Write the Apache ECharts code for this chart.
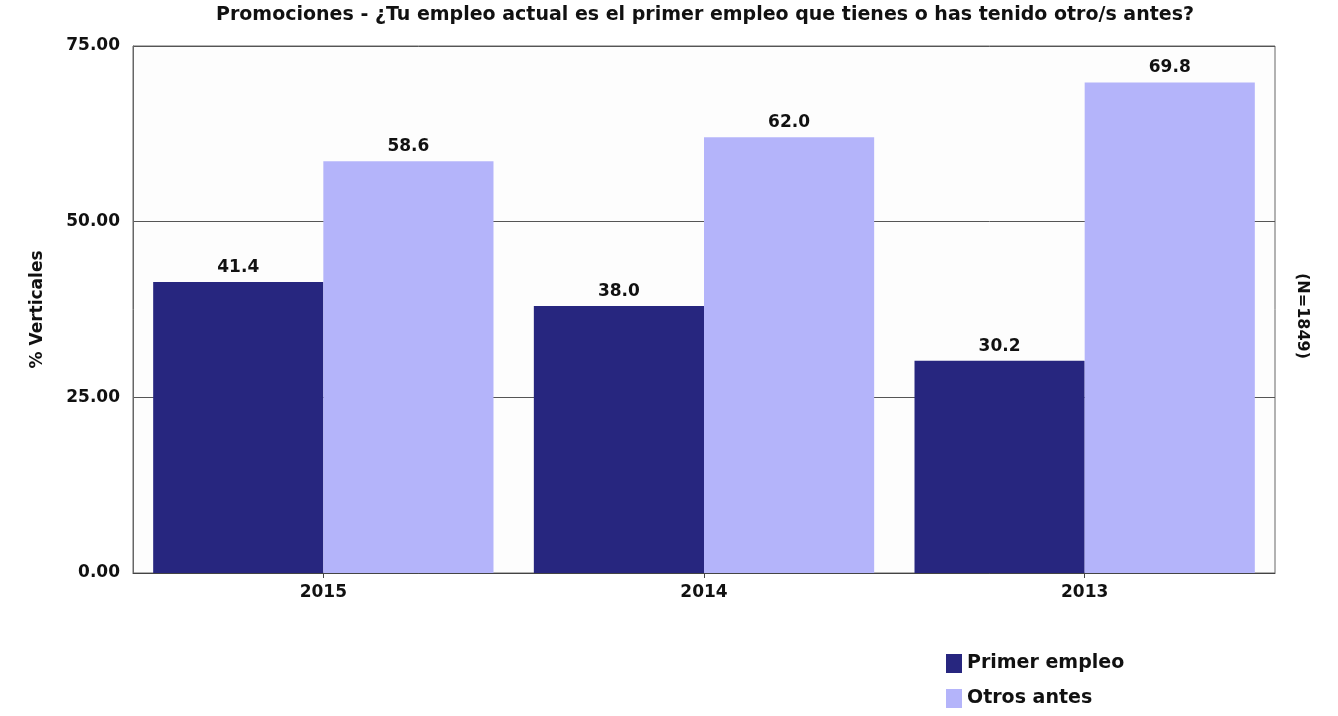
<!DOCTYPE html>
<html>
<head>
<meta charset="utf-8">
<script src="https://cdn.jsdelivr.net/npm/echarts@6/dist/echarts.min.js"></script>
<style>
  html, body { margin: 0; padding: 0; background: #fff; }
  #chart { width: 1338px; height: 716px; }
</style>
</head>
<body>
<div id="chart"></div>
<script>
  var years = ['2015', '2014', '2013'];
  var primerEmpleo = [41.4, 38.0, 30.2];
  var otrosAntes = [58.6, 62.0, 69.8];
  var yTicks = [0, 25, 50, 75];

  var font = '"DejaVu Sans", "Liberation Sans", Arial, sans-serif';

  var chart = echarts.init(document.getElementById('chart'));
  var option = {
    animation: false,
    backgroundColor: '#ffffff',
    textStyle: { fontFamily: font },
    title: {
      text: 'Promociones - ¿Tu empleo actual es el primer empleo que tienes o has tenido otro/s antes?',
      left: 700,
      textAlign: 'center',
      top: 1,
      textStyle: { fontSize: 19, fontWeight: 'bold', color: '#111', fontFamily: font }
    },
    legend: {
      orient: 'vertical',
      left: 946,
      top: 654,
      padding: 0,
      height: 60,
      itemWidth: 16,
      itemHeight: 19,
      itemGap: 16,
      icon: 'rect',
      textStyle: { fontSize: 19, fontWeight: 'bold', color: '#111', fontFamily: font },
      data: ['Primer empleo', 'Otros antes']
    },
    grid: {
      left: 133,
      right: 63,
      top: 46,
      bottom: 143,
      show: true,
      borderColor: '#666',
      borderWidth: 1,
      backgroundColor: '#fdfdfd'
    },
    xAxis: {
      type: 'category',
      data: years,
      axisLine: { lineStyle: { color: '#444' } },
      axisTick: { show: true, alignWithLabel: true, length: 5, lineStyle: { color: '#444' } },
      axisLabel: { fontSize: 17, fontWeight: 'bold', color: '#111', margin: 11 }
    },
    yAxis: {
      type: 'value',
      min: yTicks[0],
      max: yTicks[yTicks.length - 1],
      interval: 25,
      name: '% Verticales',
      nameLocation: 'middle',
      nameRotate: 90,
      nameGap: 87,
      nameTextStyle: { fontSize: 17, fontWeight: 'bold', color: '#111' },
      axisLine: { show: true, lineStyle: { color: '#666' } },
      axisTick: { show: false },
      axisLabel: {
        fontSize: 17, fontWeight: 'bold', color: '#111', margin: 13,
        formatter: function (v) { return v.toFixed(2); }
      },
      splitLine: { show: true, lineStyle: { color: '#555', width: 1 } }
    },
    series: [
      {
        name: 'Primer empleo',
        type: 'bar',
        data: primerEmpleo,
        barWidth: '44.7%',
        barGap: '0%',
        itemStyle: { color: '#27267f' },
        label: {
          show: true, position: 'top', distance: 6,
          fontSize: 17, fontWeight: 'bold', color: '#111',
          formatter: function (p) { return p.value.toFixed(1); }
        }
      },
      {
        name: 'Otros antes',
        type: 'bar',
        data: otrosAntes,
        barWidth: '44.7%',
        barGap: '0%',
        itemStyle: { color: '#b4b4fa' },
        label: {
          show: true, position: 'top', distance: 6,
          fontSize: 17, fontWeight: 'bold', color: '#111',
          formatter: function (p) { return p.value.toFixed(1); }
        }
      }
    ],
    graphic: [
      {
        type: 'text',
        x: 1302,
        y: 316,
        rotation: -Math.PI / 2,
        style: {
          text: '(N=1849)',
          fontSize: 16,
          fontWeight: 'bold',
          fontFamily: font,
          fill: '#111',
          textAlign: 'center',
          textVerticalAlign: 'middle'
        }
      }
    ]
  };
  chart.setOption(option);
</script>
</body>
</html>
